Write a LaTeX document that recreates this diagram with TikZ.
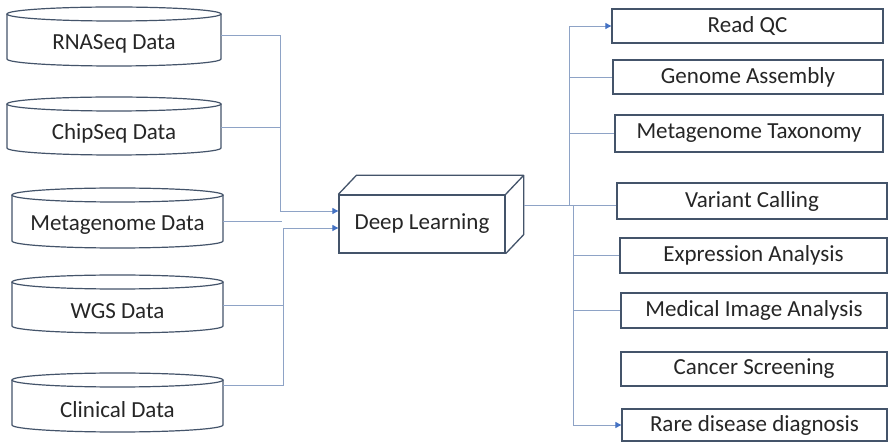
\documentclass[tikz,border=0pt]{standalone}
\usepackage{fontspec}
\setmainfont{Carlito}
\usetikzlibrary{arrows.meta,calc}

\definecolor{edgeline}{HTML}{44546A}
\definecolor{linkline}{HTML}{8EA3C6}
\definecolor{tipblue}{HTML}{4472C4}
\definecolor{labeltext}{HTML}{262626}

% data store drawn as a cylinder around an invisible named node
% #1 name, #2 left x, #3 right x, #4 top y, #5 bottom y (downward), #6 label
\newcommand\dbcyl[6]{%
  \pgfmathsetmacro\cylcx{(#2+#3)/2}%
  \pgfmathsetmacro\cylrx{(#3-#2)/2}%
  \pgfmathsetmacro\cylh{#5-#4-2*7}%
  \pgfmathsetmacro\cylcy{-(#4+14+#5)/2}%
  \node[cyltext, minimum width={(#3-#2)*1pt}, minimum height={\cylh*1pt}] (#1) at (\cylcx,\cylcy) {#6};
  \draw[cylline] (#2,{-(#4+7)}) -- (#2,{-(#5-7)})
     arc[start angle=180, end angle=360, x radius=\cylrx pt, y radius=7pt]
     -- (#3,{-(#4+7)});
  \draw[cylline] (\cylcx,{-(#4+7)}) ellipse[x radius=\cylrx pt, y radius=7pt];
}

\tikzset{
  every node/.style={font=\fontsize{23}{27}\selectfont, text=labeltext},
  cyltext/.style={draw=none, inner sep=0pt},
  cylline/.style={draw=edgeline, line width=1.2pt},
  taskbox/.style={draw=edgeline, line width=1.3pt, inner sep=0pt},
  dlbox/.style={draw=edgeline, line width=1.3pt, inner sep=0pt,
                minimum width=166pt, minimum height=58pt},
  conn/.style={draw=linkline, line width=0.9pt},
  arr/.style={-{Triangle[length=6pt,width=6pt,color=tipblue,fill=tipblue]}},
}

\begin{document}
\begin{tikzpicture}[x=1pt,y=1pt]
\useasboundingbox[fill=white] (0,0) rectangle (889,-443);

% input data stores
\dbcyl{rna}{7}{221}{7}{66}{RNASeq Data}
\dbcyl{chip}{7}{221}{97}{155}{ChipSeq Data}
\dbcyl{meta}{12}{223}{188}{248}{Metagenome Data}
\dbcyl{wgs}{12}{223}{275}{333}{WGS Data}
\dbcyl{clin}{12}{223}{373}{432}{Clinical Data}

% central block drawn as a cuboid
\node[dlbox] (dl) at (422,-224) {Deep Learning};
\draw[edgeline, line width=1.3pt, line join=round]
  (dl.north west) -- ++(18,19) -- ($(dl.north east)+(18,19)$) -- (dl.north east)
  ($(dl.north east)+(18,19)$) -- ($(dl.south east)+(18,19)$) -- (dl.south east);

% application tasks
\node[taskbox, minimum width=271pt, minimum height=34pt] (readqc)  at (747.5,-26)   {Read QC};
\node[taskbox, minimum width=270pt, minimum height=34pt] (genome)  at (748,-77)     {Genome Assembly};
\node[taskbox, minimum width=268pt, minimum height=37pt] (metatax) at (749,-133.5)  {Metagenome Taxonomy};
\node[taskbox, minimum width=270pt, minimum height=36pt] (variant) at (752,-201)    {Variant Calling};
\node[taskbox, minimum width=267pt, minimum height=35pt] (expr)    at (753.5,-255.5){Expression Analysis};
\node[taskbox, minimum width=266pt, minimum height=35pt] (medical) at (754,-310.5)  {Medical Image Analysis};
\node[taskbox, minimum width=266pt, minimum height=34pt] (cancer)  at (754,-369)    {Cancer Screening};
\node[taskbox, minimum width=265pt, minimum height=32pt] (rare)    at (754.5,-425)  {Rare disease diagnosis};

% junctions of the input trunks
\coordinate (ja) at (280,-211);
\coordinate (jb) at (283,-228);

% inputs to the central block
\draw[conn] ($(rna.east)+(0,8.5)$) -| (ja);
\draw[conn] ($(chip.east)+(0,6)$) -| (ja);
\draw[conn,arr] (ja) -- (ja -| dl.west);
\draw[conn] ($(meta.east)+(0,4)$) -- ++(59,0);
\draw[conn] ($(wgs.east)+(0,6)$) -| (jb);
\draw[conn] ($(clin.east)+(0,24.5)$) -| (jb);
\draw[conn,arr] (jb) -- (jb -| dl.west);

% outputs of the central block
\coordinate (dlout) at ($(dl.east)+(18,19)$);
\coordinate (ju) at ($(dlout)+(46,0)$);
\coordinate (jl) at ($(dlout)+(50,0)$);
\draw[conn] (dlout) -- (dlout -| variant.west);
\draw[conn,arr] (ju) |- (readqc.west);
\draw[conn] (ju |- genome.west) -- (genome.west);
\draw[conn] (ju |- metatax.west) -- (metatax.west);
\draw[conn,arr] (jl) |- (rare.west);
\draw[conn] (jl |- expr.west) -- (expr.west);
\draw[conn] (jl |- medical.west) -- (medical.west);
\end{tikzpicture}
\end{document}
